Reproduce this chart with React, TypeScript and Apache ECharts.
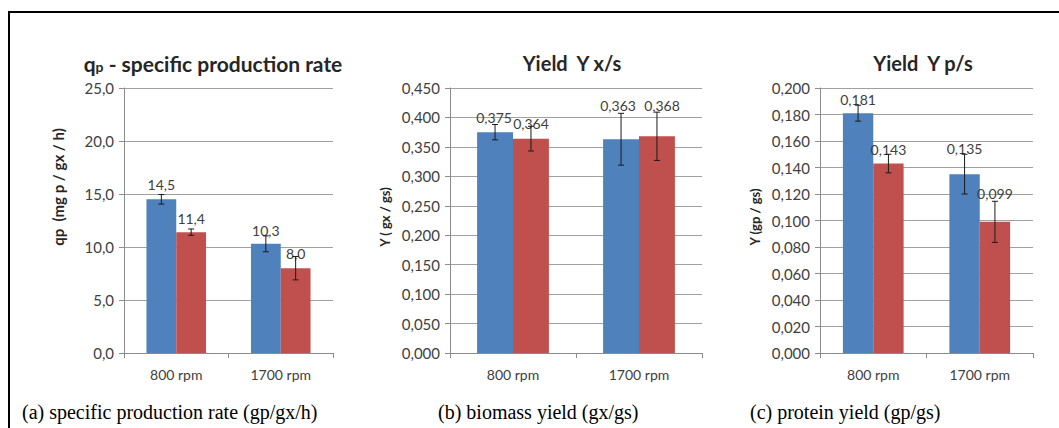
import React, { useEffect, useRef } from "react";
import * as echarts from "echarts";

const categories = ["800 rpm", "1700 rpm"];

// (a) specific production rate
const qpBlue = [14.5, 10.3];
const qpRed = [11.4, 8.0];
const qpBlueErr = [0.45, 0.75];
const qpRedErr = [0.3, 1.1];

// (b) biomass yield
const yxsBlue = [0.375, 0.363];
const yxsRed = [0.364, 0.368];
const yxsBlueErr = [0.013, 0.044];
const yxsRedErr = [0.021, 0.041];

// (c) protein yield
const ypsBlue = [0.181, 0.135];
const ypsRed = [0.143, 0.099];
const ypsBlueErr = [0.006, 0.015];
const ypsRedErr = [0.007, 0.0155];

// label lift above the bar and sideways nudge (style)
const qpBlueLift = [8, 6];
const qpRedLift = [7, 8];
const yxsBlueLift = [8, 27];
const yxsRedLift = [8, 24];
const ypsBlueLift = [7, 19];
const ypsRedLift = [7, 21];
const yxsBlueNudge = [-1, -3];
const yxsRedNudge = [0, 5];

const BLUE = "#4F81BD";
const RED = "#C0504D";
const GAP = 0.43;
const FONT = "Lato, 'Open Sans', sans-serif";

const panels = [
  {
    grid: { left: 124, top: 88, width: 209, height: 265 },
    max: 25, interval: 5, dec: 1,
    blue: qpBlue, red: qpRed, blueErr: qpBlueErr, redErr: qpRedErr,
    blueLift: qpBlueLift, redLift: qpRedLift, blueNudge: [0, 0], redNudge: [0, 0],
    yName: "qp  (mg p / gx / h)", yNameSize: 15, yNameX: 58, yNameY: 187,
  },
  {
    grid: { left: 450, top: 88, width: 252, height: 265 },
    max: 0.45, interval: 0.05, dec: 3,
    blue: yxsBlue, red: yxsRed, blueErr: yxsBlueErr, redErr: yxsRedErr,
    blueLift: yxsBlueLift, redLift: yxsRedLift, blueNudge: yxsBlueNudge, redNudge: yxsRedNudge,
    yName: "Y ( gx / gs)", yNameSize: 13, yNameX: 385, yNameY: 217,
  },
  {
    grid: { left: 820, top: 88, width: 213, height: 265 },
    max: 0.2, interval: 0.02, dec: 3,
    blue: ypsBlue, red: ypsRed, blueErr: ypsBlueErr, redErr: ypsRedErr,
    blueLift: ypsBlueLift, redLift: ypsRedLift, blueNudge: [0, 0], redNudge: [0, 0],
    yName: "Y (gp / gs)", yNameSize: 13, yNameX: 755, yNameY: 217,
  },
];

const fmt = (v: number, dec: number) => v.toFixed(dec).replace(".", ",");

function errSeries(idx: number, vals: number[], errs: number[], sign: number) {
  return {
    type: "custom",
    xAxisIndex: idx,
    yAxisIndex: idx,
    z: 5,
    silent: true,
    encode: { x: 0, y: [1, 2] },
    data: vals.map((v, i) => [i, v - errs[i], v + errs[i]]),
    renderItem: (params: any, api: any) => {
      const cat = api.value(0);
      const lo = api.value(1);
      const hi = api.value(2);
      const band = api.size([1, 0])[0];
      const bw = (band * (1 - GAP)) / 2;
      const x = api.coord([cat, 0])[0] + (sign * bw) / 2;
      const yTop = api.coord([cat, hi])[1];
      const yBot = api.coord([cat, lo])[1];
      const cap = 3;
      const st = { stroke: "#1a1a1a", lineWidth: 1 };
      return {
        type: "group",
        children: [
          { type: "line", shape: { x1: x, y1: yTop, x2: x, y2: yBot }, style: st },
          { type: "line", shape: { x1: x - cap, y1: yTop, x2: x + cap, y2: yTop }, style: st },
          { type: "line", shape: { x1: x - cap, y1: yBot, x2: x + cap, y2: yBot }, style: st },
        ],
      };
    },
  };
}

function barSeries(
  idx: number, vals: number[], lifts: number[], nudges: number[], color: string, dec: number
) {
  return {
    type: "bar",
    xAxisIndex: idx,
    yAxisIndex: idx,
    barGap: "0%",
    barCategoryGap: GAP * 100 + "%",
    itemStyle: { color },
    data: vals.map((v, i) => ({
      value: v,
      label: { distance: lifts[i], offset: [nudges[i], 0] },
    })),
    label: {
      show: true,
      position: "top",
      color: "#404040",
      fontFamily: FONT,
      fontSize: 14,
      formatter: (p: any) => fmt(p.value, dec),
    },
  };
}

export default function App() {
  const ref = useRef<HTMLDivElement>(null);
  useEffect(() => {
    if (!ref.current) return;
    const chart = echarts.init(ref.current, null, { renderer: "svg" });
    const grids: any[] = [];
    const xAxes: any[] = [];
    const yAxes: any[] = [];
    const series: any[] = [];
    const yNames: any[] = [];
    panels.forEach((p, i) => {
      grids.push({ ...p.grid, containLabel: false });
      xAxes.push({
        type: "category",
        gridIndex: i,
        data: categories,
        axisLine: { lineStyle: { color: "#8c8c8c" } },
        axisTick: { show: true, length: 5, lineStyle: { color: "#8c8c8c" } },
        axisLabel: { color: "#404040", fontFamily: FONT, fontSize: 14, margin: 14 },
      });
      yAxes.push({
        type: "value",
        gridIndex: i,
        min: 0,
        max: p.max,
        interval: p.interval,
        axisLine: { show: true, lineStyle: { color: "#8c8c8c" } },
        axisTick: { show: true, length: 5, lineStyle: { color: "#8c8c8c" } },
        splitLine: { show: true, lineStyle: { color: "#a0a0a0" } },
        axisLabel: {
          color: "#404040",
          fontFamily: FONT,
          fontSize: 15,
          margin: 10,
          formatter: (v: number) => fmt(v, p.dec),
        },
      });
      yNames.push({
        type: "text",
        x: p.yNameX,
        y: p.yNameY,
        rotation: Math.PI / 2,
        style: {
          text: p.yName,
          align: "center",
          verticalAlign: "middle",
          fill: "#262626",
          font: `bold ${p.yNameSize}px ${FONT}`,
        },
      });
      series.push(barSeries(i, p.blue, p.blueLift, p.blueNudge, BLUE, p.dec));
      series.push(barSeries(i, p.red, p.redLift, p.redNudge, RED, p.dec));
      series.push(errSeries(i, p.blue, p.blueErr, -1));
      series.push(errSeries(i, p.red, p.redErr, 1));
    });

    const titleStyle = (x: number, text: string, rich?: any) => ({
      type: "text",
      x,
      y: 63,
      style: {
        text,
        align: "center",
        verticalAlign: "middle",
        fill: "#262626",
        font: `bold 20px ${FONT}`,
        rich,
      },
    });
    const caption = (x: number, text: string) => ({
      type: "text",
      x,
      y: 412,
      style: {
        text,
        align: "left",
        verticalAlign: "middle",
        fill: "#000",
        font: "20px 'Liberation Serif', 'Times New Roman', serif",
      },
    });

    chart.setOption({
      animation: false,
      backgroundColor: "#fff",
      grid: grids,
      xAxis: xAxes,
      yAxis: yAxes,
      series,
      graphic: [
        { type: "line", shape: { x1: 8, y1: 12, x2: 1059, y2: 12 }, style: { stroke: "#000", lineWidth: 2 } },
        { type: "line", shape: { x1: 9, y1: 12, x2: 9, y2: 428 }, style: { stroke: "#000", lineWidth: 2 } },
        titleStyle(213, "{a|q}{s|p}{a| - specific production rate}", {
          a: { font: `bold 21px ${FONT}`, fill: "#262626" },
          s: { font: `bold 14px ${FONT}`, fill: "#262626", padding: [6, 0, 0, 0] },
        }),
        titleStyle(572, "Yield  Y x/s"),
        titleStyle(923, "Yield  Y p/s"),
        ...yNames,
        caption(22, "(a) specific production rate (gp/gx/h)"),
        caption(438, "(b) biomass yield (gx/gs)"),
        caption(750, "(c) protein yield (gp/gs)"),
      ],
    });
    return () => chart.dispose();
  }, []);
  return (
    <div
      ref={ref}
      style={{ position: "fixed", left: 0, top: 0, width: 1059, height: 428, background: "#fff" }}
    />
  );
}
